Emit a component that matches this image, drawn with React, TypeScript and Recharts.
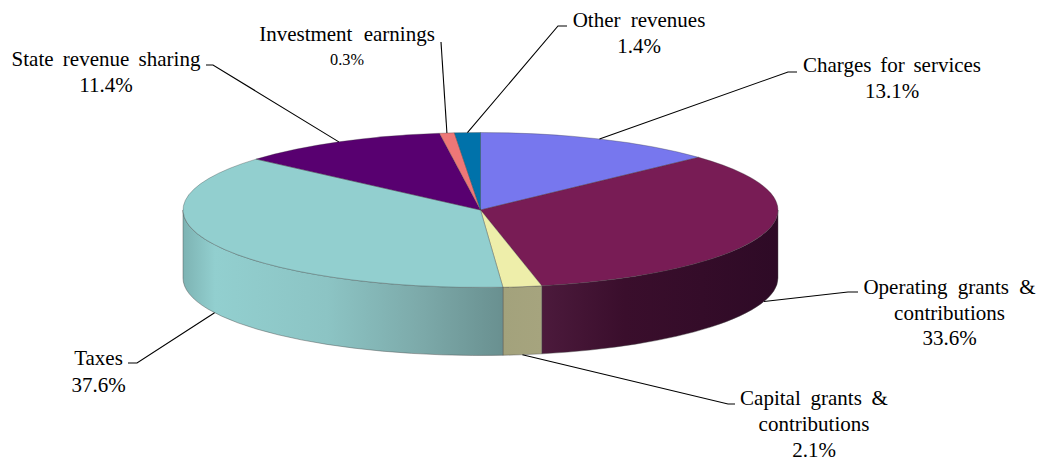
import { Cell, Pie, PieChart } from "recharts";

// slice sizes; Investment earnings is labelled 0.3% but drawn wider than that
const categories = [
  "Charges for services",
  "Operating grants & contributions",
  "Capital grants & contributions",
  "Taxes",
  "State revenue sharing",
  "Investment earnings",
  "Other revenues",
];
const sliceValues = [13.1, 33.6, 2.1, 37.6, 11.4, 0.8, 1.4];
const percentLabels = ["13.1%", "33.6%", "2.1%", "37.6%", "11.4%", "0.3%", "1.4%"];
const topColors = ["#7777ee", "#781c55", "#eeeeaa", "#92cfcf", "#580070", "#ee7777", "#0072aa"];

const chartData = categories.map((name, i) => ({ name, value: sliceValues[i] }));

const RX = 297.5;
const RY = 77.5;
const DEPTH = 68;
const FONT = '"Liberation Serif", "Times New Roman", serif';

const wallStops: Record<string, [number, string][]> = {
  "Operating grants & contributions": [
    [0, "#4c1a3c"],
    [0.35, "#3a0e2c"],
    [1, "#2e0a26"],
  ],
  "Capital grants & contributions": [
    [0, "#a3a27c"],
    [1, "#a6a47e"],
  ],
  Taxes: [
    [0, "#7db3b3"],
    [0.1, "#92cfcf"],
    [0.45, "#8cc4c4"],
    [0.75, "#7ca9a9"],
    [1, "#699090"],
  ],
};

// label placement: text lines with centre x and baseline, leader line points after the rim
const labelLayout = [
  { lines: ["Charges for services"], x: 892, y: 72, gap: 26, pctSize: 21, spacing: 3.5, leader: [[788, 72], [797, 72]] },
  { lines: ["Operating grants &", "contributions"], x: 949.5, y: 294, gap: 25.5, pctSize: 21, spacing: 5, leader: [[848, 292], [858, 292]] },
  { lines: ["Capital grants &", "contributions"], x: 814, y: 405, gap: 26, pctSize: 21, spacing: 4.5, leader: [[728, 404], [735, 404]] },
  { lines: ["Taxes"], x: 98.5, y: 365, gap: 26.5, pctSize: 21, spacing: 0, leader: [[137, 363], [128, 363]] },
  { lines: ["State revenue sharing"], x: 106, y: 66, gap: 25.5, pctSize: 21, spacing: 4, leader: [[213, 65], [206, 65]] },
  { lines: ["Investment earnings"], x: 347, y: 41, gap: 23.5, pctSize: 16.3, spacing: 6, leader: [[441, 42]] },
  { lines: ["Other revenues"], x: 639, y: 27, gap: 26, pctSize: 21, spacing: 5, leader: [[558, 26], [567, 26]] },
];

const rimPoint = (cx: number, cy: number, angle: number, drop = 0) => {
  const rad = (angle * Math.PI) / 180;
  return { x: cx + RX * Math.cos(rad), y: cy - RY * Math.sin(rad) + drop };
};

function Slice3D(props: any) {
  const { cx, cy, startAngle, endAngle, fill, name } = props;
  const a = rimPoint(cx, cy, startAngle);
  const b = rimPoint(cx, cy, endAngle);
  const large = Math.abs(endAngle - startAngle) > 180 ? 1 : 0;
  const top = `M${cx},${cy} L${a.x},${a.y} A${RX},${RY} 0 ${large} 1 ${b.x},${b.y} Z`;

  // the side wall only shows on the front half, angles 0 to -180
  const from = Math.min(startAngle, 0);
  const to = Math.max(endAngle, -180);
  const hasWall = from > to;
  const id = `wall-${categories.indexOf(name)}`;
  let wall = "";
  if (hasWall) {
    const w1 = rimPoint(cx, cy, from);
    const w2 = rimPoint(cx, cy, to);
    wall =
      `M${w1.x},${w1.y} A${RX},${RY} 0 0 1 ${w2.x},${w2.y} L${w2.x},${w2.y + DEPTH} ` +
      `A${RX},${RY} 0 0 0 ${w1.x},${w1.y + DEPTH} Z`;
  }

  return (
    <g>
      {hasWall && (
        <>
          <defs>
            <linearGradient id={id} x1="0" y1="0" x2="1" y2="0">
              {(wallStops[name] || []).map(([offset, color]) => (
                <stop key={offset} offset={offset} stopColor={color} />
              ))}
            </linearGradient>
          </defs>
          <path d={wall} fill={`url(#${id})`} stroke="#4a4a4a" strokeOpacity={0.55} strokeWidth={0.8} />
        </>
      )}
      <path d={top} fill={fill} stroke="#3a3a3a" strokeOpacity={0.45} strokeWidth={0.7} />
    </g>
  );
}

function renderLeader(props: any) {
  const { cx, cy, midAngle, index } = props;
  const front = Math.sin((midAngle * Math.PI) / 180) < 0;
  const start = rimPoint(cx, cy, midAngle, front ? DEPTH : 0);
  const pts = [[start.x, start.y], ...labelLayout[index].leader];
  return (
    <polyline
      key={`leader-${index}`}
      points={pts.map((p) => p.join(",")).join(" ")}
      fill="none"
      stroke="#000"
      strokeWidth={1.1}
    />
  );
}

function renderLabel(props: any) {
  const { index } = props;
  const item = labelLayout[index];
  return (
    <text key={`label-${index}`} textAnchor="middle" fontFamily={FONT} fill="#000" stroke="none">
      {item.lines.map((line, i) => (
        <tspan key={line} x={item.x} y={item.y + i * item.gap} fontSize={21} wordSpacing={item.spacing}>
          {line}
        </tspan>
      ))}
      <tspan x={item.x} y={item.y + item.lines.length * item.gap} fontSize={item.pctSize}>
        {percentLabels[index]}
      </tspan>
    </text>
  );
}

export default function App() {
  return (
    <div style={{ position: "absolute", left: 0, top: 0, width: 1042, height: 461, background: "#fff" }}>
      <PieChart width={1042} height={461} margin={{ top: 0, right: 0, bottom: 0, left: 0 }}>
        <Pie
          data={chartData}
          dataKey="value"
          nameKey="name"
          cx={480.5}
          cy={210}
          innerRadius={0}
          outerRadius={RX}
          startAngle={90}
          endAngle={-270}
          isAnimationActive={false}
          shape={Slice3D}
          label={renderLabel}
          labelLine={renderLeader}
        >
          {chartData.map((entry, index) => (
            <Cell key={entry.name} fill={topColors[index]} />
          ))}
        </Pie>
      </PieChart>
    </div>
  );
}
